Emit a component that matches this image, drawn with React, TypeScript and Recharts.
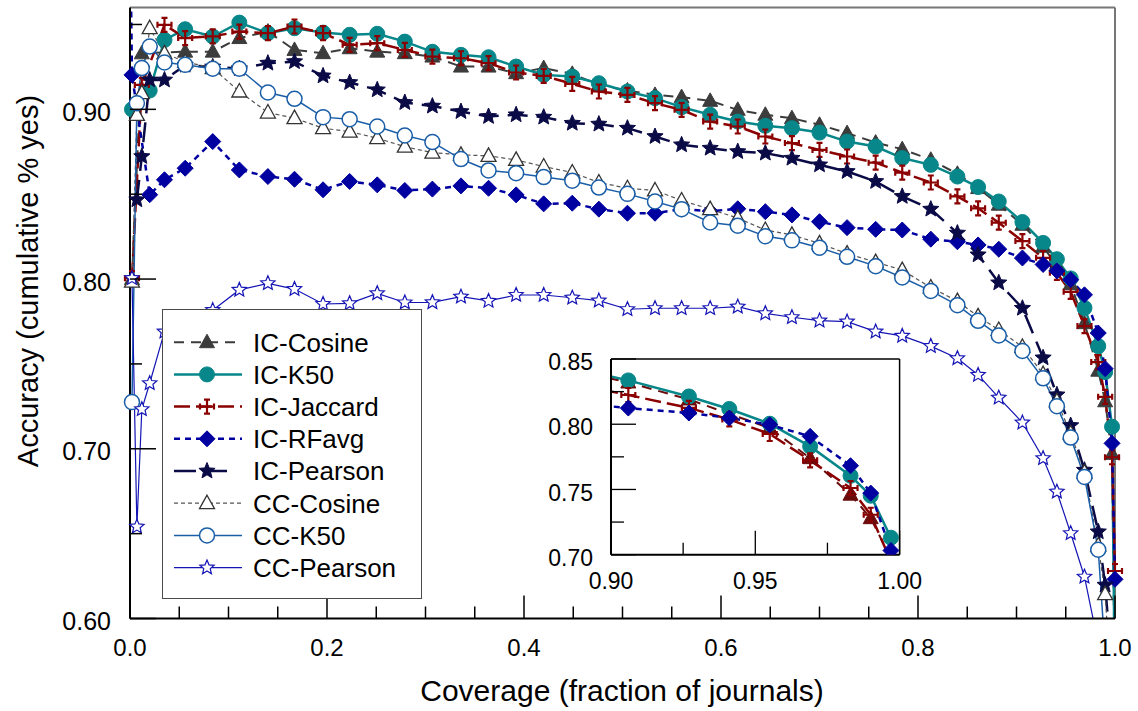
import React from 'react';
import { LineChart, Line, XAxis, YAxis, ReferenceLine, Legend } from 'recharts';

const FONT = '"Liberation Sans", Arial, sans-serif';

// coverage (fraction of journals) shared by every series
const coverage = [0.0005, 0.002, 0.007, 0.012, 0.02, 0.035, 0.056, 0.084, 0.111, 0.14, 0.167, 0.196, 0.223, 0.251, 0.279, 0.307, 0.336, 0.364, 0.392, 0.42, 0.449, 0.476, 0.505, 0.533, 0.56, 0.589, 0.617, 0.645, 0.672, 0.7, 0.728, 0.757, 0.784, 0.813, 0.84, 0.861, 0.882, 0.906, 0.927, 0.941, 0.955, 0.969, 0.983, 0.99, 0.997, 1.0];

const icCosine = [null, 0.8, null, 0.933, null, null, 0.934, 0.934, 0.942, 0.9458, 0.935, 0.9331, 0.936, 0.934, 0.9331, 0.9311, 0.9252, 0.9252, 0.9213, 0.9243, 0.9209, 0.9144, 0.9111, 0.9085, 0.9072, 0.905, 0.8997, 0.8968, 0.8948, 0.8909, 0.886, 0.8804, 0.8765, 0.8703, 0.862, 0.8536, 0.8438, 0.832, 0.819, 0.808, 0.797, 0.774, 0.746, 0.728, 0.697, 0.55];
const icK50 = [null, 0.9, null, null, 0.9111, 0.9409, 0.9472, 0.9429, 0.9511, 0.9449, 0.9478, 0.9452, 0.9439, 0.9445, 0.9399, 0.9339, 0.9321, 0.9307, 0.9252, 0.9203, 0.9193, 0.9154, 0.9105, 0.9066, 0.9013, 0.8968, 0.8928, 0.8903, 0.8889, 0.8863, 0.881, 0.8781, 0.8713, 0.8673, 0.8604, 0.8542, 0.8457, 0.8336, 0.8213, 0.8117, 0.8004, 0.783, 0.7605, 0.7452, 0.713, 0.55];
const icJaccard = [null, 0.8005, null, 0.9144, null, 0.9498, 0.942, 0.943, 0.9458, 0.9449, 0.9488, 0.9449, 0.938, 0.939, 0.935, 0.9311, 0.9301, 0.9272, 0.9217, 0.9197, 0.915, 0.9105, 0.9085, 0.9036, 0.8997, 0.8928, 0.8899, 0.884, 0.8801, 0.8761, 0.8722, 0.8686, 0.8627, 0.8569, 0.8487, 0.8417, 0.8332, 0.8224, 0.8125, 0.8037, 0.7925, 0.7723, 0.7511, 0.7306, 0.695, 0.628];
const icRFavg = [0.99, 0.9203, null, null, 0.8497, 0.8585, 0.8653, 0.881, 0.8643, 0.8604, 0.8588, 0.8526, 0.8575, 0.8555, 0.8522, 0.853, 0.8549, 0.8535, 0.8496, 0.8443, 0.8447, 0.8412, 0.8388, 0.8388, 0.8412, 0.84, 0.8414, 0.8397, 0.8378, 0.8338, 0.8303, 0.8293, 0.8289, 0.8235, 0.822, 0.8201, 0.8176, 0.8124, 0.8086, 0.8048, 0.7996, 0.7907, 0.7682, 0.7472, 0.7032, 0.6231];
const icPearson = [null, null, 0.8467, 0.8722, 0.9173, 0.9173, 0.926, 0.925, 0.924, 0.9272, 0.9281, 0.9197, 0.9158, 0.9115, 0.904, 0.9019, 0.8987, 0.8958, 0.8968, 0.8954, 0.8918, 0.8913, 0.8889, 0.884, 0.8791, 0.8771, 0.8751, 0.8742, 0.8712, 0.8673, 0.8634, 0.8575, 0.8487, 0.8412, 0.8271, 0.8143, 0.7978, 0.7828, 0.7536, 0.7318, 0.7137, 0.6874, 0.6511, 0.6197, 0.57, null];
const ccCosine = [null, 0.7985, 0.8967, 0.9095, 0.9478, 0.933, 0.928, 0.9243, 0.9105, 0.8981, 0.8948, 0.8889, 0.8869, 0.883, 0.878, 0.8745, 0.8732, 0.8726, 0.8702, 0.8663, 0.8628, 0.8569, 0.8535, 0.8522, 0.8463, 0.8412, 0.8359, 0.8289, 0.826, 0.821, 0.815, 0.81, 0.8053, 0.795, 0.787, 0.778, 0.77, 0.76, 0.744, 0.728, 0.709, 0.686, 0.643, 0.6144, 0.55, null];
const ccK50 = [null, 0.7275, 0.9036, 0.9243, 0.937, 0.9276, 0.9262, 0.9239, 0.9239, 0.9099, 0.9062, 0.8954, 0.8942, 0.8899, 0.8846, 0.8807, 0.8707, 0.864, 0.8624, 0.8601, 0.8579, 0.8539, 0.8502, 0.8457, 0.8412, 0.8333, 0.8314, 0.8252, 0.8228, 0.8185, 0.8131, 0.8076, 0.8009, 0.793, 0.7846, 0.7754, 0.7668, 0.7576, 0.7415, 0.7251, 0.7066, 0.6834, 0.6405, 0.58, null, null];
const ccPearson = [null, 0.8005, 0.6541, 0.7233, 0.7386, 0.769, 0.776, 0.7817, 0.7936, 0.7975, 0.7941, 0.7853, 0.7857, 0.7916, 0.7862, 0.7863, 0.7896, 0.7871, 0.7906, 0.7906, 0.789, 0.7873, 0.7822, 0.7828, 0.7828, 0.7828, 0.7837, 0.7798, 0.7775, 0.7755, 0.7749, 0.769, 0.7665, 0.7605, 0.7533, 0.7435, 0.7301, 0.7154, 0.6944, 0.6747, 0.6502, 0.6246, 0.585, null, null, null];

const xTicks = [0, 0.05, 0.1, 0.15, 0.2, 0.25, 0.3, 0.35, 0.4, 0.45, 0.5, 0.55, 0.6, 0.65, 0.7, 0.75, 0.8, 0.85, 0.9, 0.95, 1.0];
const yTicks = [0.6, 0.65, 0.7, 0.75, 0.8, 0.85, 0.9, 0.95];
const insetXTicks = [0.9, 0.925, 0.95, 0.975, 1.0];
const insetYTicks = [0.7, 0.725, 0.75, 0.775, 0.8, 0.825, 0.85];
const insetSeries = ['icCosine', 'icK50', 'icJaccard', 'icRFavg'];

type MarkerKind = 'triFill' | 'circleFill' | 'crossSerif' | 'diamond' | 'starFill' | 'triOpen' | 'circleOpen' | 'starOpen';

interface SeriesDef {
  key: string;
  name: string;
  values: (number | null)[];
  color: string;
  width: number;
  dash?: string;
  marker: MarkerKind;
}

const SERIES: SeriesDef[] = [
  { key: 'icCosine', name: 'IC-Cosine', values: icCosine, color: '#3c3c3c', width: 2, dash: '10 7', marker: 'triFill' },
  { key: 'icK50', name: 'IC-K50', values: icK50, color: '#07878a', width: 2.5, marker: 'circleFill' },
  { key: 'icJaccard', name: 'IC-Jaccard', values: icJaccard, color: '#8b0000', width: 2.5, dash: '16 6', marker: 'crossSerif' },
  { key: 'icRFavg', name: 'IC-RFavg', values: icRFavg, color: '#0000a0', width: 2.5, dash: '6 5', marker: 'diamond' },
  { key: 'icPearson', name: 'IC-Pearson', values: icPearson, color: '#0a0a46', width: 2.5, dash: '20 9', marker: 'starFill' },
  { key: 'ccCosine', name: 'CC-Cosine', values: ccCosine, color: '#555555', width: 1.2, dash: '4 3', marker: 'triOpen' },
  { key: 'ccK50', name: 'CC-K50', values: ccK50, color: '#1a5ea8', width: 1.5, marker: 'circleOpen' },
  { key: 'ccPearson', name: 'CC-Pearson', values: ccPearson, color: '#1515b5', width: 1.2, marker: 'starOpen' },
];

const rows = coverage.map((x, i) => {
  const row: Record<string, number | null> = { x };
  SERIES.forEach((s) => {
    row[s.key] = s.values[i];
  });
  return row;
});
const insetRows = rows.filter((r) => (r.x as number) >= 0.88);

function starPath(cx: number, cy: number, R: number, r: number) {
  let d = '';
  for (let k = 0; k < 10; k++) {
    const rad = k % 2 === 0 ? R : r;
    const a = -Math.PI / 2 + (k * Math.PI) / 5;
    d += (k === 0 ? 'M' : 'L') + (cx + rad * Math.cos(a)).toFixed(2) + ',' + (cy + rad * Math.sin(a)).toFixed(2);
  }
  return d + 'Z';
}

const Marker = ({ kind, cx, cy, color }: { kind: MarkerKind; cx: number; cy: number; color: string }) => {
  switch (kind) {
    case 'triFill':
      return <polygon points={`${cx},${cy - 8} ${cx + 7.5},${cy + 5.5} ${cx - 7.5},${cy + 5.5}`} fill={color} stroke={color} strokeWidth={1} />;
    case 'triOpen':
      return <polygon points={`${cx},${cy - 8} ${cx + 7.5},${cy + 5.5} ${cx - 7.5},${cy + 5.5}`} fill="#fff" stroke="#333" strokeWidth={1.3} />;
    case 'circleFill':
      return <circle cx={cx} cy={cy} r={7.5} fill={color} stroke={color} strokeWidth={1} />;
    case 'circleOpen':
      return <circle cx={cx} cy={cy} r={7.5} fill="#fff" stroke={color} strokeWidth={1.5} />;
    case 'diamond':
      return <polygon points={`${cx},${cy - 8} ${cx + 8},${cy} ${cx},${cy + 8} ${cx - 8},${cy}`} fill={color} stroke={color} strokeWidth={1} />;
    case 'starFill':
      return <path d={starPath(cx, cy, 8.5, 3.8)} fill={color} stroke={color} strokeWidth={1} />;
    case 'starOpen':
      return <path d={starPath(cx, cy, 7.5, 3.4)} fill="#fff" stroke={color} strokeWidth={1.2} />;
    case 'crossSerif':
      return (
        <path
          d={`M${cx},${cy - 7}V${cy + 7}M${cx - 7},${cy}H${cx + 7}M${cx - 3},${cy - 7}H${cx + 3}M${cx - 3},${cy + 7}H${cx + 3}M${cx - 7},${cy - 3}V${cy + 3}M${cx + 7},${cy - 3}V${cy + 3}`}
          fill="none"
          stroke={color}
          strokeWidth={2.2}
        />
      );
    default:
      return null;
  }
};

const makeDot = (kind: MarkerKind, color: string) => (p: any) => {
  if (p.cx == null || p.cy == null || p.value == null) return <g key={`d-${p.index}`} />;
  return (
    <g key={`d-${p.index}`}>
      <Marker kind={kind} cx={p.cx} cy={p.cy} color={color} />
    </g>
  );
};

const isMultiple = (v: number, step: number) => Math.abs(v / step - Math.round(v / step)) < 1e-6;

const MainXTick = (props: any) => {
  const { x, y, payload } = props;
  const v = payload.value as number;
  const major = isMultiple(v, 0.2);
  return (
    <g>
      <line x1={x} x2={x} y1={y} y2={y - (major ? 23 : 12)} stroke="#000" strokeWidth={1.5} />
      {major && (
        <text x={x} y={y + 37} textAnchor="middle" fontSize={24} fontFamily={FONT} fill="#000">
          {v.toFixed(1)}
        </text>
      )}
    </g>
  );
};

const MainYTick = (props: any) => {
  const { x, y, payload } = props;
  const v = payload.value as number;
  const major = isMultiple(v, 0.1);
  return (
    <g>
      <line x1={x} x2={x + (major ? 26 : 12)} y1={y} y2={y} stroke="#000" strokeWidth={1.5} />
      {major && (
        <text x={x - 19} y={y + 11.7} textAnchor="end" fontSize={25} fontFamily={FONT} fill="#000">
          {v.toFixed(2)}
        </text>
      )}
    </g>
  );
};

const InsetXTick = (props: any) => {
  const { x, y, payload } = props;
  const v = payload.value as number;
  const major = isMultiple(v, 0.05);
  return (
    <g>
      <line x1={x} x2={x} y1={y} y2={y - (major ? 24 : 12)} stroke="#000" strokeWidth={1.3} />
      {major && (
        <text x={x} y={y + 34} textAnchor="middle" fontSize={23} fontFamily={FONT} fill="#000">
          {v.toFixed(2)}
        </text>
      )}
    </g>
  );
};

const InsetYTick = (props: any) => {
  const { x, y, payload } = props;
  const v = payload.value as number;
  const major = isMultiple(v, 0.05);
  return (
    <g>
      <line x1={x} x2={x + (major ? 25 : 13)} y1={y} y2={y} stroke="#000" strokeWidth={1.3} />
      {major && (
        <text x={x - 18} y={y + 11.2} textAnchor="end" fontSize={23} fontFamily={FONT} fill="#000">
          {v.toFixed(2)}
        </text>
      )}
    </g>
  );
};

const LegendBox = () => (
  <div style={{ width: 260, height: 290, boxSizing: 'border-box', border: '1.5px solid #4a4a4a', background: '#fff' }}>
    <svg width={257} height={287} style={{ display: 'block' }}>
      {SERIES.map((s, i) => {
        const cy = 32.2 + i * 32.2;
        const short = s.key === 'icPearson';
        return (
          <g key={s.key}>
            <line x1={11} x2={short ? 66 : 79} y1={cy} y2={cy} stroke={s.color} strokeWidth={s.width} strokeDasharray={short ? '22 9' : s.dash} />
            <Marker kind={s.marker} cx={44} cy={cy} color={s.color} />
            <text x={90} y={cy + 9.3} fontSize={26} fontFamily={FONT} fill="#000">
              {s.name}
            </text>
          </g>
        );
      })}
    </svg>
  </div>
);

export default function App() {
  return (
    <div style={{ position: 'absolute', left: 0, top: 0, width: 1138, height: 711, background: '#fff', fontFamily: FONT }}>
      <LineChart width={1138} height={711} data={rows} margin={{ top: 7.5, right: 23, bottom: 32.5, left: 0 }}>
        <XAxis
          dataKey="x"
          type="number"
          domain={[0, 1]}
          ticks={xTicks}
          interval={0}
          tickSize={0}
          tickMargin={0}
          tickLine={false}
          axisLine={{ stroke: '#000', strokeWidth: 2 }}
          tick={(p: any) => <MainXTick {...p} />}
          height={60}
          label={() => (
            <text x={622} y={701} textAnchor="middle" fontSize={30} fontFamily={FONT} fill="#000">
              Coverage (fraction of journals)
            </text>
          )}
        />
        <YAxis
          type="number"
          domain={[0.6, 0.96]}
          allowDataOverflow
          ticks={yTicks}
          interval={0}
          tickSize={0}
          tickMargin={0}
          tickLine={false}
          axisLine={{ stroke: '#000', strokeWidth: 2 }}
          tick={(p: any) => <MainYTick {...p} />}
          width={130}
          label={() => (
            <text x={38} y={281} transform="rotate(-90 38 281)" textAnchor="middle" fontSize={29} fontFamily={FONT} fill="#000">
              Accuracy (cumulative % yes)
            </text>
          )}
        />
        <ReferenceLine y={0.96} stroke="#777" strokeWidth={2} ifOverflow="visible" />
        <ReferenceLine x={1} stroke="#777" strokeWidth={2} ifOverflow="visible" />
        {SERIES.map((s) => (
          <Line
            key={s.key}
            dataKey={s.key}
            name={s.name}
            type="linear"
            stroke={s.color}
            strokeWidth={s.width}
            strokeDasharray={s.dash}
            dot={makeDot(s.marker, s.color)}
            activeDot={false}
            connectNulls
            isAnimationActive={false}
          />
        ))}
        <Legend
          layout="vertical"
          align="center"
          verticalAlign="middle"
          wrapperStyle={{ left: 162, top: 309, width: 260, height: 290 }}
          content={() => <LegendBox />}
        />
      </LineChart>

      <div style={{ position: 'absolute', left: 530.7, top: 343.3 }}>
        <LineChart width={398.6} height={251.7} data={insetRows} margin={{ top: 16, right: 30, bottom: 0, left: 0 }}>
          <XAxis
            dataKey="x"
            type="number"
            domain={[0.9, 1.0]}
            allowDataOverflow
            ticks={insetXTicks}
            interval={0}
            tickSize={0}
            tickMargin={0}
            tickLine={false}
            axisLine={{ stroke: '#000', strokeWidth: 2 }}
            tick={(p: any) => <InsetXTick {...p} />}
            height={40}
          />
          <YAxis
            type="number"
            domain={[0.7, 0.85]}
            allowDataOverflow
            ticks={insetYTicks}
            interval={0}
            tickSize={0}
            tickMargin={0}
            tickLine={false}
            axisLine={{ stroke: '#000', strokeWidth: 2 }}
            tick={(p: any) => <InsetYTick {...p} />}
            width={80}
          />
          <ReferenceLine y={0.85} stroke="#000" strokeWidth={1.5} ifOverflow="visible" />
          <ReferenceLine x={1} stroke="#000" strokeWidth={1.5} ifOverflow="visible" />
          {SERIES.filter((s) => insetSeries.includes(s.key)).map((s) => {
            const color = s.key === 'icCosine' ? '#6a0c0c' : s.color;
            return (
              <Line
                key={s.key}
                dataKey={s.key}
                type="linear"
                stroke={color}
                strokeWidth={s.width}
                strokeDasharray={s.dash}
                dot={makeDot(s.marker, color)}
                activeDot={false}
                connectNulls
                isAnimationActive={false}
              />
            );
          })}
        </LineChart>
      </div>
    </div>
  );
}
